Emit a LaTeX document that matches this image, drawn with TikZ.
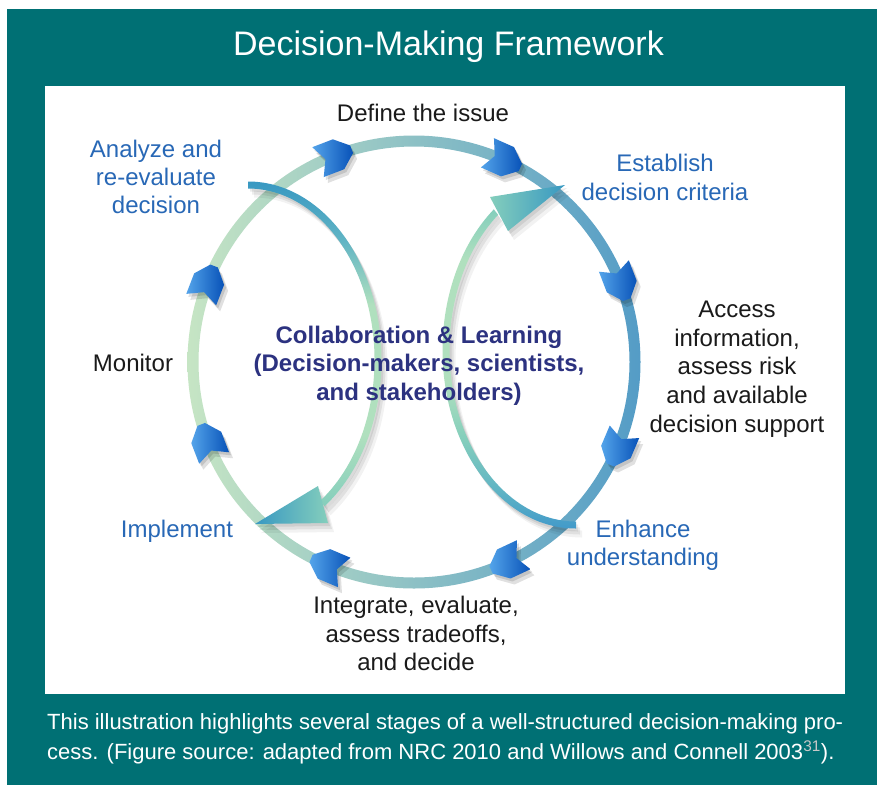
\documentclass[tikz,border=0pt]{standalone}
\usepackage{fontspec}
\setmainfont{Liberation Sans}
\usetikzlibrary{calc}
\definecolor{teal0}{RGB}{0,112,116}
\definecolor{lblblue}{RGB}{40,104,182}
\definecolor{navy}{RGB}{44,50,128}
\definecolor{txt}{RGB}{26,26,26}
\definecolor{ringL}{RGB}{198,229,196}
\definecolor{ringM}{RGB}{156,214,196}
\definecolor{ringR}{RGB}{84,156,198}
\definecolor{arrD}{RGB}{8,82,184}
\definecolor{arrL}{RGB}{84,164,234}
\definecolor{tealA}{RGB}{56,152,194}
\definecolor{tealA2}{RGB}{96,180,196}
\definecolor{mintA}{RGB}{176,224,190}
\definecolor{mintB}{RGB}{132,206,188}
\definecolor{blueB}{RGB}{66,154,202}
\definecolor{supgray}{RGB}{200,200,200}
\pgfdeclareverticalshading{larcshade}{100bp}{color(0bp)=(mintB); color(25bp)=(mintB); color(36bp)=(mintA); color(56bp)=(mintA); color(66bp)=(tealA2); color(75bp)=(tealA); color(100bp)=(tealA)}
\pgfdeclareverticalshading{rarcshade}{100bp}{color(0bp)=(blueB); color(25bp)=(blueB); color(31bp)=(tealA2); color(39bp)=(mintB); color(48bp)=(mintA); color(67bp)=(mintA); color(75bp)=(mintB); color(100bp)=(mintB)}
\tikzset{
  lbl/.style={font=\fontsize{24}{28.5}\selectfont, text=txt, inner sep=0pt, anchor=base},
  lblblu/.style={lbl, text=lblblue},
  lblnavy/.style={lbl, text=navy, font=\fontsize{24}{28.5}\selectfont\bfseries},
  captxt/.style={font=\fontsize{22}{30}\selectfont, text=white, inner sep=0pt, anchor=base west},
  ringhead/.style={left color=arrL, right color=arrD},
  headshadow/.style={fill=black, opacity=0.12}
}
\begin{document}
\begin{tikzpicture}[x=1pt,y=-1pt]
\useasboundingbox (0,0) rectangle (885,785);
\fill[white] (0,0) rectangle (885,785);
\fill[teal0] (7,9) rectangle (877,785);
\fill[white] (45,86) rectangle (845,694);

% outer ring
\shade[even odd rule, left color=ringL, middle color=ringM, right color=ringR]
  (414,362) circle (226.5) (414,362) circle (215.5);

% ring arrowheads
\def\HeadPath{(-18,16) -- (4,16) -- (18,4) -- (18,-4) -- (4,-16) -- (-18,-16) -- (-10,0) -- cycle}
\foreach \a in {111,66,21,-23,-65,-113,-159,159}{
  \foreach \dx/\dy in {2/3,4/6}{
    \begin{scope}[shift={({414+221*cos(\a)+\dx},{362-221*sin(\a)+\dy})}, rotate=\a-90]
      \fill[headshadow] \HeadPath;
    \end{scope}
  }
  \begin{scope}[shift={({414+221*cos(\a)},{362-221*sin(\a)})}, rotate=\a-90]
    \shade[ringhead] \HeadPath;
  \end{scope}
}

% inner arc paths
\def\LArcPath{(248,181.5) arc[start angle=-90,end angle=55,x radius=133.5,y radius=178.5]
  -- ({248+126.5*cos(55)},{360+171.5*sin(55)}) arc[start angle=55,end angle=-90,x radius=126.5,y radius=171.5] -- cycle}
\def\RArcPath{(576,528.5) arc[start angle=90,end angle=232,x radius=133.5,y radius=178.5]
  -- ({576+126.5*cos(232)},{350+171.5*sin(232)}) arc[start angle=232,end angle=90,x radius=126.5,y radius=171.5] -- cycle}
\def\LHeadPath{(255,524) -- (318,486) -- (328,523) -- cycle}
\def\RHeadPath{(565,185) -- (490,197) -- (508,231) -- cycle}

% shadows of inner arcs
\foreach \dx/\dy/\op in {2/3/0.08,4/6/0.07,6/9/0.05}{
  \fill[black, opacity=\op, shift={(\dx,\dy)}] \LArcPath;
  \fill[black, opacity=\op, shift={(\dx,\dy)}] \RArcPath;
  \fill[black, opacity=\op, shift={(\dx,\dy)}] \LHeadPath;
  \fill[black, opacity=\op, shift={(\dx,\dy)}] \RHeadPath;
}

% inner arcs
\shade[shading=larcshade] \LArcPath;
\shade[shading=rarcshade] \RArcPath;
\shade[left color=tealA, right color=mintB] \LHeadPath;
\shade[left color=mintB, right color=tealA] \RHeadPath;

% title
\node[font=\fontsize{34}{40}\selectfont, text=white, inner sep=0pt, anchor=base] (title) at (448.5,55) {Decision-Making Framework};

% labels
\node[lbl] (define) at (423,121) {Define the issue};
\node[lblblu] (analyze1) at (156,157) {Analyze and};
\node[lblblu] (analyze2) at (156,185) {re-evaluate};
\node[lblblu] (analyze3) at (156,213) {decision};
\node[lblblu] (establish1) at (665,171) {Establish};
\node[lblblu] (establish2) at (665,200) {decision criteria};
\node[lbl] (access1) at (737,317) {Access};
\node[lbl] (access2) at (737,346) {information,};
\node[lbl] (access3) at (737,374) {assess risk};
\node[lbl] (access4) at (737,403) {and available};
\node[lbl] (access5) at (737,432) {decision support};
\node[lblblu] (enhance1) at (643,537) {Enhance};
\node[lblblu] (enhance2) at (643,565) {understanding};
\node[lbl] (integrate1) at (416,613) {Integrate, evaluate,};
\node[lbl] (integrate2) at (416,642) {assess tradeoffs,};
\node[lbl] (integrate3) at (416,670) {and decide};
\node[lblblu] (implement) at (177,537) {Implement};
\node[lbl] (monitor) at (133,371) {Monitor};
\node[lblnavy] (collab1) at (419,343) {Collaboration \& Learning};
\node[lblnavy] (collab2) at (419,371.5) {(Decision-makers, scientists,};
\node[lblnavy] (collab3) at (419,400) {and stakeholders)};

% caption
\node[captxt] (cap1) at (47,729) {This illustration highlights several stages of a well-structured decision-making pro-};
\node[captxt] (cap2) at (47,759) {cess. (Figure source: adapted from NRC 2010 and Willows and Connell 2003\textsuperscript{\color{supgray}31}).};
\end{tikzpicture}
\end{document}
